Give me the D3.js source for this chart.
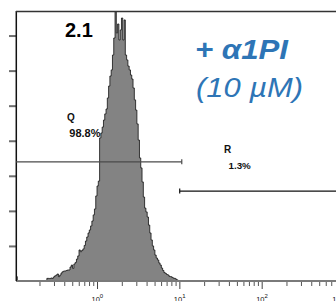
<!DOCTYPE html>
<html>
<head>
<meta charset="utf-8">
<title>Histogram 2.1</title>
<script src="https://cdnjs.cloudflare.com/ajax/libs/d3/7.8.5/d3.min.js"></script>
<style>
    html, body { margin: 0; padding: 0; background: white; overflow: hidden; }
    svg text { font-family: "Liberation Sans", Arial, sans-serif; }
</style>
</head>
<body>
<div id="graph"></div>
<script>
// data -------------------------------------------------------------
var panelLabel = "2.1";
var treatmentLines = ["+ \u03b11PI", "(10 \u00b5M)"];
var xDomain = [0.1, 1000];            // log fluorescence axis
var yDomain = [0, 154];               // counts
var channelsPerDecade = 64;
var yTickValues = [20, 40, 60, 80, 100, 120, 140];
var xLabelDecades = [0, 1, 2, 3];      // 10^0 .. 10^3

// counts per channel, channel 0 = 10^-1
var counts = [
    0, 2.5, 0, 0, 0, 0, 0, 0, 0, 0, 0, 0, 0, 0, 0, 0, 0, 0, 0, 0, 0, 0, 0, 0, 0,
    1.5, 1.5, 1.4, 1.7, 1.5, 2.3, 2.9, 3.4, 4.0, 2.5, 3.4, 4.6, 5.3, 5.7, 5.7,
    6.0, 6.3, 6.3, 8.0, 9.1, 7.2, 9.7, 10.6, 12.5, 14.3, 17.7, 16.7, 17.4, 18.3,
    20.3, 22.8, 25.1, 27.4, 29.1, 31.4, 34.2, 37.7, 41.1, 48.5, 54.2, 57.0,
    81.6, 84.4, 87.8, 91.8, 95.3, 98.1, 104.4, 111.2, 116.9, 120.4, 128.9, 138.6,
    156, 141.5, 146.6, 137.5, 143.2, 150, 137.5, 148.9, 128.9, 126.1, 122.6,
    120.4, 117.5, 115.2, 110.1, 103.3, 97.5, 89.6, 80.4, 70.2, 64.5, 56.5, 47.9,
    41.6, 39.4, 36.5, 31.9, 27.4, 23.4, 20.0, 17.7, 14.8, 13.1, 12.0, 10.3, 9.1,
    7.4, 6.0, 4.8, 4.3, 3.7, 3.4, 2.6, 2.5, 2.1, 1.7, 1.5, 1.1, 0.6, 0
];

// gates
var gateNames = ["Q", "R"];
var gatePercents = ["98.8%", "1.3%"];
var gateRanges = [[0.1, 10.7], [10.1, 1000]];
var gateLevels = [68, 51.3];

// layout -----------------------------------------------------------
var width = 336, height = 301;
var plotLeft = 16, plotTop = 11, plotBottom = 281, plotRight = 336;

var svg = d3.select("#graph")
    .append("svg")
        .attr("width", width)
        .attr("height", height);

var x = d3.scaleLog()
    .domain(xDomain)
    .range([14.7, 344]);

var y = d3.scaleLinear()
    .domain(yDomain)
    .range([plotBottom, plotTop]);

svg.append("clipPath").attr("id", "plotClip")
    .append("rect")
    .attr("x", plotLeft).attr("y", plotTop)
    .attr("width", plotRight - plotLeft).attr("height", plotBottom - plotTop);

// histogram
var bins = counts.map(function(c, i) {
    return { v: xDomain[0] * Math.pow(10, i / channelsPerDecade), c: c };
});
bins.push({ v: xDomain[0] * Math.pow(10, counts.length / channelsPerDecade), c: 0 });

var area = d3.area()
    .curve(d3.curveStepAfter)
    .x(function(d) { return x(d.v); })
    .y0(y(0))
    .y1(function(d) { return y(d.c); });

svg.append("path")
    .datum(bins)
    .attr("clip-path", "url(#plotClip)")
    .attr("d", area)
    .attr("fill", "#838383")
    .attr("stroke", "#111")
    .attr("stroke-width", 0.8);

// y axis (ticks only)
var yGroup = svg.append("g")
    .attr("transform", "translate(" + plotLeft + ",0)")
    .call(d3.axisLeft(y).tickValues(yTickValues).tickSize(7).tickFormat(""));
yGroup.select(".domain").remove();
yGroup.selectAll(".tick line").attr("stroke", "#6e6e6e").attr("stroke-width", 2);

// x axis: minor and major ticks
var minorTicks = [];
for (var dec = -1; dec < 3; dec++) {
    for (var m = 2; m <= 9; m++) minorTicks.push(m * Math.pow(10, dec));
}
var majorTicks = xLabelDecades.map(function(d) { return Math.pow(10, d); });

var xMinor = svg.append("g")
    .attr("transform", "translate(0," + (plotBottom + 1) + ")")
    .call(d3.axisBottom(x).tickValues(minorTicks).tickSize(4).tickFormat(""));
xMinor.select(".domain").remove();
xMinor.selectAll(".tick line").attr("stroke", "#555").attr("stroke-width", 1);

var xMajor = svg.append("g")
    .attr("transform", "translate(0," + (plotBottom + 1) + ")")
    .call(d3.axisBottom(x).tickValues(majorTicks).tickSize(7).tickFormat(""));
xMajor.select(".domain").remove();
xMajor.selectAll(".tick line").attr("stroke", "#444").attr("stroke-width", 1);

// axis line
svg.append("line")
    .attr("x1", plotLeft).attr("x2", plotRight)
    .attr("y1", plotBottom).attr("y2", plotBottom)
    .attr("stroke", "#7a7a7a").attr("stroke-width", 2);

// x tick labels with superscripts (bottom edge crops them, as in the source)
xLabelDecades.forEach(function(d, i) {
    var px = x(Math.pow(10, d));
    var last = i === xLabelDecades.length - 1;
    var t = svg.append("text")
        .attr("x", last ? px : px - 5.5)
        .attr("y", 302)
        .attr("font-size", 7.5)
        .attr("fill", "#111")
        .attr("text-anchor", last ? "end" : "start");
    t.append("tspan").text("10");
    t.append("tspan").attr("dy", -4.5).attr("font-size", 6).text(d);
});

// frame: left axis and top border
svg.append("line")
    .attr("x1", plotLeft + 0.3).attr("x2", plotLeft + 0.3)
    .attr("y1", plotTop).attr("y2", plotBottom)
    .attr("stroke", "#111").attr("stroke-width", 1.5);
svg.append("line")
    .attr("x1", plotLeft).attr("x2", plotRight)
    .attr("y1", plotTop + 0.5).attr("y2", plotTop + 0.5)
    .attr("stroke", "#333").attr("stroke-width", 1.4);

// gates
var gateColors = ["#4a4a4a", "#111"];
var labelPos = [[67, 121, 69.3, 136.5], [224, 152.5, 228.5, 169]];
var pctSizes = [11, 9.8];
gateNames.forEach(function(name, i) {
    var gy = y(gateLevels[i]);
    var x0 = Math.max(x(gateRanges[i][0]), plotLeft);
    var x1 = Math.min(x(gateRanges[i][1]), plotRight);
    svg.append("line")
        .attr("x1", x0).attr("x2", x1).attr("y1", gy).attr("y2", gy)
        .attr("stroke", gateColors[i]).attr("stroke-width", 1.3);
    // end bars inside the view
    [x(gateRanges[i][0]), x(gateRanges[i][1])].forEach(function(ex) {
        if (ex > plotLeft + 1 && ex < plotRight - 1) {
            svg.append("line")
                .attr("x1", ex).attr("x2", ex).attr("y1", gy - 2.5).attr("y2", gy + 2.5)
                .attr("stroke", gateColors[i]).attr("stroke-width", 1.2);
        }
    });
    svg.append("text")
        .attr("x", labelPos[i][0]).attr("y", labelPos[i][1])
        .attr("font-size", 10).attr("font-weight", "bold").attr("fill", "#111")
        .text(name);
    svg.append("text")
        .attr("x", labelPos[i][2]).attr("y", labelPos[i][3])
        .attr("font-size", pctSizes[i]).attr("font-weight", "bold").attr("fill", "#111")
        .text(gatePercents[i]);
});

// panel label and treatment text
svg.append("text")
    .attr("x", 65).attr("y", 36.7)
    .attr("font-size", 20).attr("font-weight", "bold").attr("fill", "#000")
    .text(panelLabel);

svg.append("text")
    .attr("x", 195).attr("y", 59)
    .attr("font-size", 28).attr("font-weight", "bold").attr("font-style", "italic")
    .attr("fill", "#2e75b6")
    .attr("textLength", 93).attr("lengthAdjust", "spacingAndGlyphs")
    .text(treatmentLines[0]);
svg.append("text")
    .attr("x", 196).attr("y", 96.5)
    .attr("font-size", 27).attr("font-style", "italic")
    .attr("fill", "#2e75b6")
    .attr("textLength", 107).attr("lengthAdjust", "spacingAndGlyphs")
    .text(treatmentLines[1]);
</script>
</body>
</html>
